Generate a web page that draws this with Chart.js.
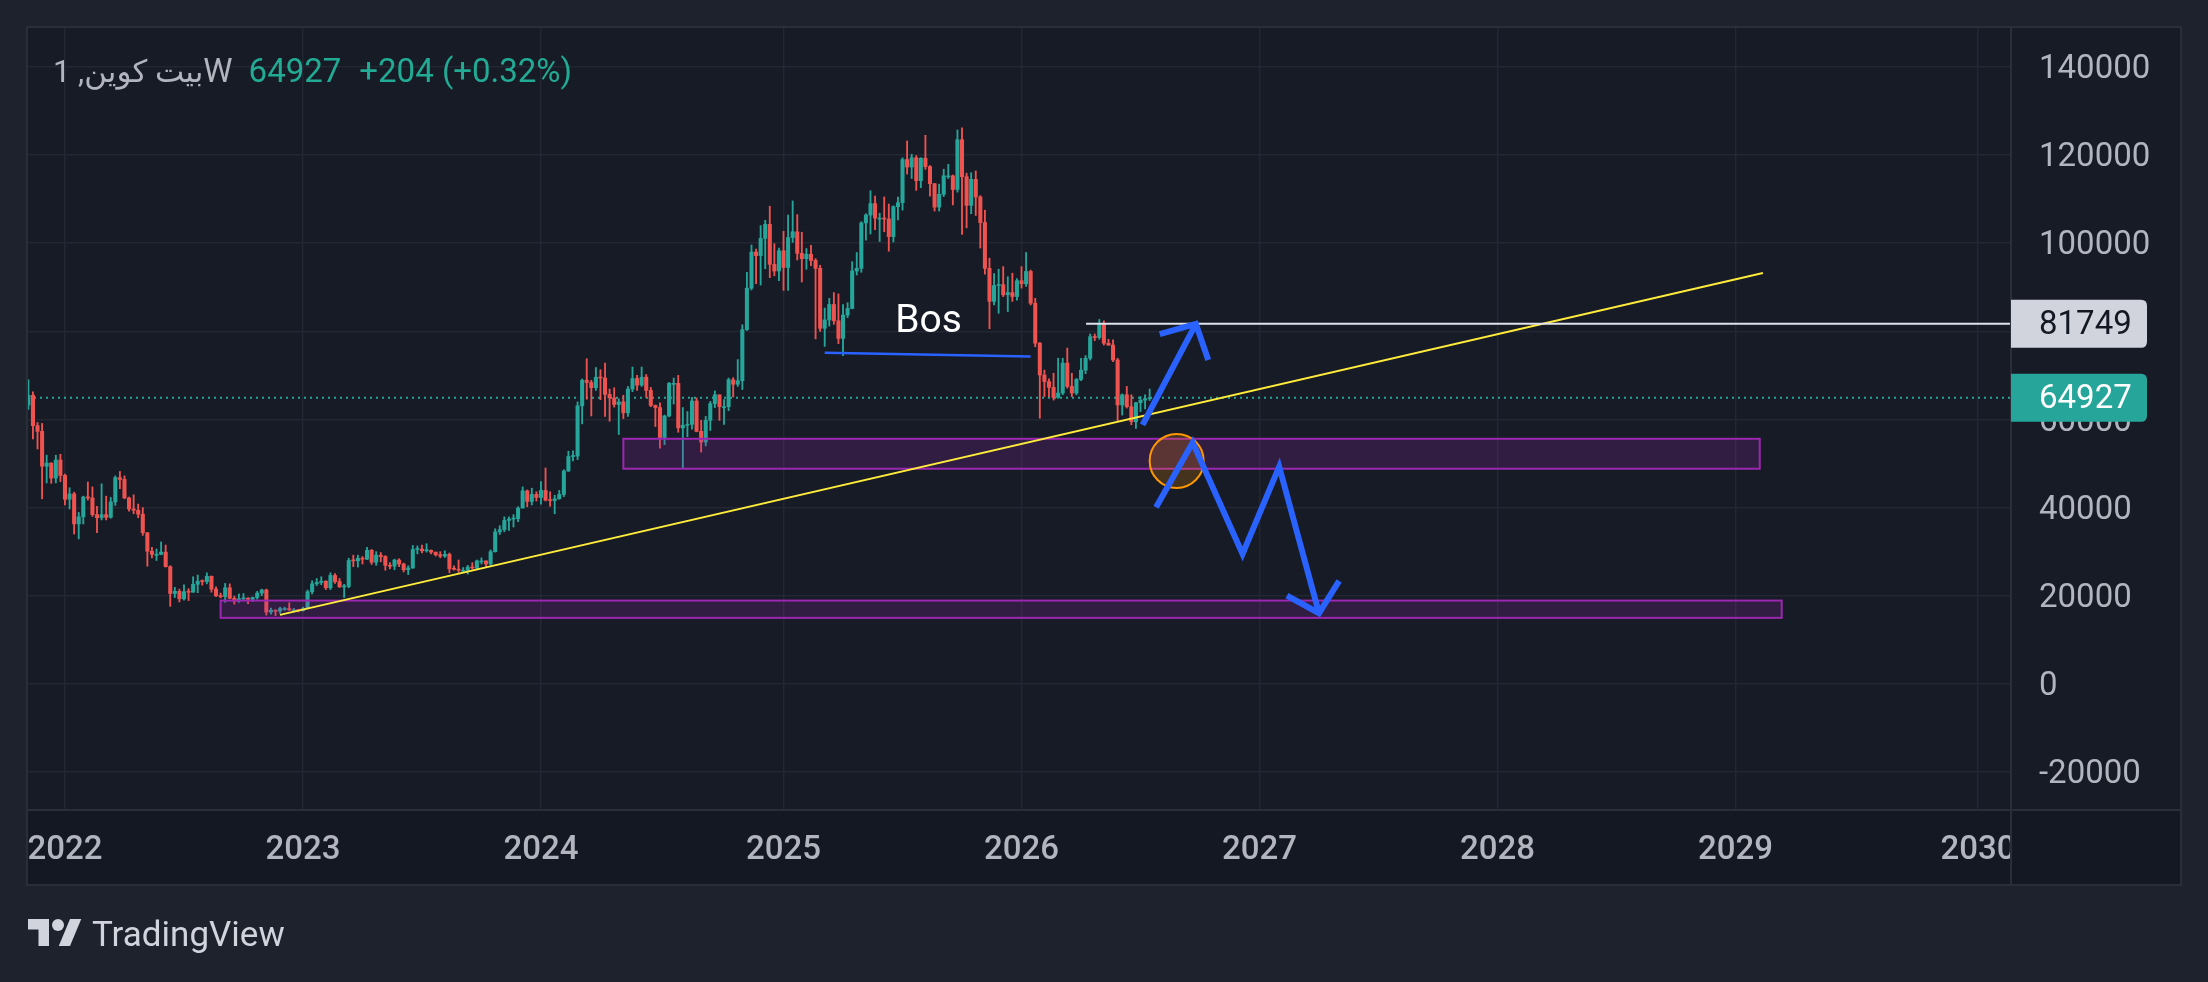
<!DOCTYPE html>
<html>
<head>
<meta charset="utf-8">
<title>بيت كوين, 1W</title>
<script src="https://cdn.jsdelivr.net/npm/chart.js@4.4.1/dist/chart.umd.min.js"></script>
<style>
  html, body { margin: 0; padding: 0; background: #1e222d; overflow: hidden; }
  #chart { display: block; }
</style>
</head>
<body>
<canvas id="chart" width="2208" height="982"></canvas>
<script>
// ---- weekly candles (x = week index, 0 = week of 2022-01-03) ----
const firstIndex = -8;
const firstOpen = 63300;

const closes = [
  65500, 58600, 57300, 49400, 50100, 46700, 50800, 47300,
  // 2022
  41900, 43100, 36300, 37900, 42400, 42200, 38400, 37700,
  38400, 37800, 41300, 46800, 46400, 42200, 39700, 39400,
  38500, 34300, 30100, 29400, 29400, 29900, 26600, 20500,
  21000, 19300, 20900, 20800, 22600, 23300, 23200, 24400,
  21500, 20000, 19800, 21800, 19400, 18800, 19300, 19400,
  19200, 19600, 20600, 21300, 16300, 16700, 16500, 17100,
  17100, 16800, 16800, 16600,
  // 2023
  17100, 20900, 22700, 23000, 23300, 21800, 24600, 23200,
  22000, 22100, 28000, 27900, 28500, 28300, 30300, 27600,
  29200, 28900, 26900, 26700, 28100, 27200, 25900, 26300,
  30500, 30600, 30200, 30300, 29900, 29300, 29000, 29400,
  26100, 26000, 25800, 25800, 26500, 26300, 27900, 27900,
  27200, 30000, 34500, 35000, 37100, 37400, 37500, 39900,
  43800, 41400, 43000, 42300,
  // 2024
  43900, 41700, 41600, 42000, 43000, 48300, 51600, 51700,
  63100, 68900, 68400, 67200, 69600, 69400, 65700, 64900,
  63400, 64000, 61500, 66900, 69300, 67800, 69600, 66600,
  63200, 62700, 55900, 60800, 68200, 68200, 58100, 58700,
  58900, 64200, 57300, 54900, 59800, 63600, 65600, 62900,
  62900, 69000, 68000, 68800, 80400, 89800, 98000, 97200,
  101100, 104300, 95200, 93700, 98300,
  // 2025
  94500, 101300, 102600, 97700, 96500, 97500, 96100, 94300,
  80700, 82600, 86100, 82400, 78400, 83700, 85200, 93700,
  94300, 104600, 106400, 109000, 105700, 105700, 105500, 101500,
  108300, 109200, 119000, 117300, 119400, 114200, 119300, 117400,
  113500, 108200, 111100, 115300, 115300, 112200, 123500, 115100,
  108600, 114500, 110500, 104700, 94300, 86800, 90400,
  90600, 88300, 88800, 87900, 91500,
  // 2026
  90800, 93600, 86400, 77300, 70100, 68600, 67300, 65000,
  66000, 72800, 67500, 66000, 69100, 71200, 73900, 78800,
  78600, 81800, 77300, 76900, 73500, 63300, 65600, 62900,
  59500, 63800, 64400, 64723, 64927
];

const highs = [
  69000, 66300, 59300, 59100, 51900, 50200, 51900, 52100,
  47600, 44500, 43500, 38900, 42600, 45800, 44700, 40300,
  45400, 42600, 42300, 47200, 48200, 47200, 42400, 42900,
  40800, 40000, 34300, 31000, 30600, 32200, 31500, 26800,
  21900, 21500, 22500, 21600, 24300, 24700, 23600, 25200,
  24500, 22000, 20600, 22800, 22700, 19900, 20400, 20500,
  19600, 19700, 21000, 21500, 21500, 17200, 16800, 17400,
  17400, 18400, 17100, 16900,
  17400, 21300, 23400, 23900, 24300, 23400, 25200, 25000,
  23900, 22600, 28500, 29200, 29200, 28900, 31000, 30500,
  30000, 29800, 29100, 27500, 28300, 28400, 27400, 26800,
  31400, 31300, 31500, 31800, 30400, 29900, 30000, 30200,
  29700, 26800, 28100, 26400, 26900, 27500, 28100, 28600,
  27900, 30400, 35200, 35900, 37900, 37900, 38400, 40200,
  44700, 44000, 44400, 43600,
  45900, 49000, 43600, 42800, 43900, 48600, 52800, 52900,
  64000, 69200, 73800, 68900, 71800, 71300, 72800, 66900,
  67200, 64700, 65500, 67500, 71900, 70000, 71900, 70200,
  67300, 63300, 63800, 61000, 68400, 69400, 70000, 62700,
  61800, 65000, 64900, 59800, 60700, 64100, 66500, 65600,
  64500, 69400, 69500, 73600, 81500, 93400, 99600, 98700,
  104000, 105200, 108400, 99900, 98900,
  102700, 106400, 109600, 106500, 102500, 98800, 99500, 96500,
  95000, 85300, 87500, 88800, 88500, 86100, 86500, 95800,
  97900, 104900, 106700, 111900, 110700, 106800, 110500, 108900,
  108500, 110500, 119400, 123200, 120200, 119900, 119400, 124500,
  117600, 113600, 113400, 116800, 117900, 115500, 125700, 126200,
  115900, 116000, 116400, 110800, 107500, 96600, 93100,
  94100, 94700, 92400, 93200, 92000,
  94700, 97900, 93900, 87500, 77500, 71200, 69200, 70500,
  73900, 73900, 76200, 70500, 69300, 73900, 74500, 79400,
  79400, 82700, 82400, 78200, 78100, 73900, 65800, 67500,
  65600, 63900, 65200, 65600, 66900
];

const lows = [
  62300, 55600, 53300, 42000, 45600, 45500, 45600, 45900,
  40600, 39700, 34000, 32900, 36300, 41700, 38000, 34300,
  37200, 37200, 37600, 40500, 44300, 42000, 39200, 38600,
  37700, 33700, 26700, 28600, 28000, 29300, 26500, 17600,
  19600, 18600, 19000, 18900, 20800, 20700, 22400, 22700,
  20800, 19800, 19500, 18500, 19300, 18100, 18500, 19100,
  18200, 18700, 19200, 20000, 15600, 15800, 15500, 16000,
  16700, 16600, 16300, 16300,
  16500, 17100, 20400, 22300, 22500, 21400, 21400, 22800,
  21900, 19600, 21800, 26600, 26500, 27200, 28200, 27100,
  26900, 27700, 25800, 26100, 25900, 26600, 25400, 24800,
  26200, 29500, 29700, 29900, 29500, 29000, 28600, 28700,
  25200, 25800, 25300, 25400, 24900, 26000, 26000, 27200,
  26500, 26900, 29900, 33900, 34500, 34800, 35600, 36800,
  39900, 40200, 40600, 41500,
  40800, 41500, 40300, 38600, 41900, 42500, 48200, 50600,
  50900, 59000, 64600, 60800, 66600, 64500, 60700, 59600,
  62800, 56600, 60200, 60700, 66300, 66600, 67500, 65000,
  62900, 58400, 53500, 54300, 60600, 63500, 57100, 49000,
  56100, 57800, 57200, 52600, 54000, 57500, 62700, 59800,
  58900, 62000, 65100, 67500, 66800, 80200, 89400, 90800,
  90500, 94200, 92200, 92600, 91500,
  89300, 89300, 100200, 96200, 91200, 94100, 94900, 78300,
  80000, 76600, 81200, 81600, 77200, 74500, 83100, 85100,
  92800, 93400, 100700, 102100, 103100, 100400, 102600, 98200,
  100300, 105300, 107500, 115700, 114700, 112000, 112600, 116800,
  110700, 107300, 107300, 110600, 114700, 108700, 111600, 102000,
  103500, 106700, 106300, 98900, 93000, 80600, 86000,
  84100, 87900, 84500, 86800, 87100,
  89800, 90200, 86000, 76500, 60300, 65200, 65200, 64400,
  64800, 65600, 67100, 65200, 65600, 68800, 70400, 73500,
  77900, 78200, 76900, 76800, 73100, 59500, 61000, 62600,
  58800, 58000, 61800, 62400, 64300
];

// ---- axes ----
const yearTickIndex = [0, 52, 104, 157, 209, 261, 313, 365, 418];
const yearLabels = ["2022", "2023", "2024", "2025", "2026", "2027", "2028", "2029", "2030"];
const priceTicks = [-20000, 0, 20000, 40000, 60000, 80000, 100000, 120000, 140000];
const xRange = [-8.08, 425.2];
const yRange = [-28630, 148850];

// ---- legend values ----
const symbolName = "بيت كوين";
const intervalCount = "1";
const intervalUnit = "W";
const lastPrice = 64927;
const priceChange = "+204";
const priceChangePct = "(+0.32%)";
const markedLevel = 81749;

// ---- drawings (x = week index, y = price) ----
const trendLine = [{ x: 46.97, y: 15660 }, { x: 371.0, y: 93260 }];
const bosLine = [{ x: 166.0, y: 75170 }, { x: 211.0, y: 74270 }];
const bosLabel = { x: 188.7, y: 82020, text: "Bos" };
const levelLine = [{ x: 223.1, y: markedLevel }, { x: 425.2, y: markedLevel }];
const upperZone = { x1: 122.0, x2: 370.3, y1: 55620, y2: 48820 };
const lowerZone = { x1: 34.0, x2: 375.1, y1: 18900, y2: 14980 };
const circleBox = { x1: 237.0, x2: 248.8, y1: 56730, y2: 44470 };
const upArrow = [{ x: 235.45, y: 58770 }, { x: 247.1, y: 81690 }];
const upArrowHead = [{ x: 239.2, y: 79350 }, { x: 247.1, y: 81690 }, { x: 249.8, y: 73520 }];
const zigzag = [
  { x: 238.4, y: 40090 }, { x: 246.4, y: 54750 }, { x: 257.3, y: 29500 },
  { x: 265.3, y: 49310 }, { x: 274.0, y: 16040 }
];
const zigzagHead = [{ x: 267.0, y: 20040 }, { x: 274.0, y: 16040 }, { x: 278.4, y: 23370 }];

// ---- colours ----
const upColor = "#26a69a";
const downColor = "#ef5350";
const gridColor = "#232733";
const frameColor = "#2a2e39";
const textColor = "#b2b5be";
const FONT = 'Roboto, "DejaVu Sans", sans-serif';

// candles -> floating bars
const opens = closes.map((c, i) => (i === 0 ? firstOpen : closes[i - 1]));
const bodyData = closes.map((c, i) => ({ x: firstIndex + i, y: [opens[i], c] }));
const wickData = closes.map((c, i) => ({ x: firstIndex + i, y: [lows[i], highs[i]] }));
const candleColors = closes.map((c, i) => (c >= opens[i] ? upColor : downColor));

function lineSet(points, color, width, order) {
  return {
    type: "line",
    data: points,
    borderColor: color,
    borderWidth: width,
    pointRadius: 0,
    fill: false,
    tension: 0,
    borderCapStyle: "butt",
    borderJoinStyle: "miter",
    order: order
  };
}

// background + frame
const paneBackground = {
  id: "paneBackground",
  beforeDraw(chart) {
    const { ctx, chartArea, scales } = chart;
    ctx.save();
    ctx.fillStyle = "#1e222d";
    ctx.fillRect(0, 0, chart.width, chart.height);
    ctx.fillStyle = "#171b26";
    ctx.fillRect(chartArea.left, chartArea.top, scales.y.right - chartArea.left, chartArea.bottom - chartArea.top);
    ctx.fillStyle = "#141823";
    ctx.fillRect(chartArea.left, scales.x.top, scales.y.right - chartArea.left, scales.x.bottom - scales.x.top);
    ctx.restore();
  },
  beforeDatasetsDraw(chart) {
    // last price dotted line
    const { ctx, chartArea, scales } = chart;
    const y = scales.y.getPixelForValue(lastPrice);
    ctx.save();
    ctx.strokeStyle = upColor;
    ctx.lineWidth = 2;
    ctx.setLineDash([2, 4]);
    ctx.beginPath();
    ctx.moveTo(chartArea.left, y);
    ctx.lineTo(chartArea.right, y);
    ctx.stroke();
    ctx.restore();
  },
  afterDatasetDraw(chart, args) {
    // zones and circle sit above the candles, below the line drawings
    if (args.index !== 1) return;
    const { ctx, chartArea, scales } = chart;
    ctx.save();
    ctx.beginPath();
    ctx.rect(chartArea.left, chartArea.top, chartArea.right - chartArea.left, chartArea.bottom - chartArea.top);
    ctx.clip();
    [upperZone, lowerZone].forEach(z => {
      const x1 = scales.x.getPixelForValue(z.x1);
      const x2 = scales.x.getPixelForValue(z.x2);
      const y1 = scales.y.getPixelForValue(z.y1);
      const y2 = scales.y.getPixelForValue(z.y2);
      ctx.fillStyle = "rgba(156, 39, 176, 0.2)";
      ctx.fillRect(x1, y1, x2 - x1, y2 - y1);
      ctx.strokeStyle = "#9c27b0";
      ctx.lineWidth = 2;
      ctx.strokeRect(x1, y1, x2 - x1, y2 - y1);
    });
    const cx1 = scales.x.getPixelForValue(circleBox.x1);
    const cx2 = scales.x.getPixelForValue(circleBox.x2);
    const cy1 = scales.y.getPixelForValue(circleBox.y1);
    const cy2 = scales.y.getPixelForValue(circleBox.y2);
    ctx.beginPath();
    ctx.ellipse((cx1 + cx2) / 2, (cy1 + cy2) / 2, Math.abs(cx2 - cx1) / 2, Math.abs(cy2 - cy1) / 2, 0, 0, Math.PI * 2);
    ctx.fillStyle = "rgba(255, 152, 0, 0.2)";
    ctx.fill();
    ctx.strokeStyle = "#ff9800";
    ctx.lineWidth = 2;
    ctx.stroke();
    ctx.restore();
  },
  afterDatasetsDraw(chart) {
    const { ctx, scales } = chart;
    ctx.save();
    ctx.font = "39px " + FONT;
    ctx.fillStyle = "#ffffff";
    ctx.textAlign = "center";
    ctx.textBaseline = "middle";
    ctx.fillText(bosLabel.text, scales.x.getPixelForValue(bosLabel.x), scales.y.getPixelForValue(bosLabel.y));
    ctx.restore();
  },
  afterDraw(chart) {
    const { ctx, chartArea, scales } = chart;
    const right = scales.y.right;
    const bottom = scales.x.bottom;
    ctx.save();
    // corner under price axis (also clips the last year label)
    ctx.fillStyle = "#141823";
    ctx.fillRect(chartArea.right + 1, scales.x.top + 1, right - chartArea.right - 1, bottom - scales.x.top - 1);
    // frame
    ctx.strokeStyle = frameColor;
    ctx.lineWidth = 2;
    ctx.strokeRect(chartArea.left - 1, chartArea.top - 1, right - chartArea.left + 2, bottom - chartArea.top + 2);
    ctx.beginPath();
    ctx.moveTo(chartArea.right, chartArea.top);
    ctx.lineTo(chartArea.right, bottom);
    ctx.moveTo(chartArea.left, chartArea.bottom);
    ctx.lineTo(right, chartArea.bottom);
    ctx.stroke();

    // price labels
    const tags = [
      { value: markedLevel, bg: "#d1d4dc", fg: "#131722" },
      { value: lastPrice, bg: upColor, fg: "#ffffff" }
    ];
    ctx.font = "33px " + FONT;
    ctx.textBaseline = "middle";
    ctx.textAlign = "left";
    tags.forEach(t => {
      const y = scales.y.getPixelForValue(t.value);
      const x0 = chartArea.right;
      const w = 136, h = 48, r = 6;
      ctx.fillStyle = t.bg;
      ctx.beginPath();
      ctx.moveTo(x0, y - h / 2);
      ctx.lineTo(x0 + w - r, y - h / 2);
      ctx.quadraticCurveTo(x0 + w, y - h / 2, x0 + w, y - h / 2 + r);
      ctx.lineTo(x0 + w, y + h / 2 - r);
      ctx.quadraticCurveTo(x0 + w, y + h / 2, x0 + w - r, y + h / 2);
      ctx.lineTo(x0, y + h / 2);
      ctx.closePath();
      ctx.fill();
      ctx.fillStyle = t.fg;
      ctx.fillText(String(t.value), x0 + 28, y + 2);
    });

    // legend line
    ctx.textBaseline = "alphabetic";
    ctx.textAlign = "left";
    let x = 53;
    const base = 82;
    ctx.fillStyle = textColor;
    ctx.font = "31px " + FONT;
    ctx.direction = "rtl";
    const title = symbolName + ", " + intervalCount;
    ctx.fillText(title, x, base);
    x += ctx.measureText(title).width;
    ctx.direction = "ltr";
    ctx.font = "33px " + FONT;
    ctx.fillText(intervalUnit, x, base);
    x += ctx.measureText(intervalUnit).width + 16;
    ctx.fillStyle = "#22ab94";
    ctx.fillText(String(lastPrice), x, base);
    x += ctx.measureText(String(lastPrice)).width + 18;
    ctx.fillText(priceChange, x, base);
    x += ctx.measureText(priceChange + " ").width;
    ctx.fillText(priceChangePct, x, base);

    // TradingView mark
    ctx.fillStyle = "#d1d4dc";
    ctx.save();
    ctx.translate(28, 913);
    ctx.scale(1.5, 1.5);
    ctx.beginPath();
    ctx.moveTo(14, 22); ctx.lineTo(7, 22); ctx.lineTo(7, 11); ctx.lineTo(0, 11);
    ctx.lineTo(0, 4); ctx.lineTo(14, 4); ctx.closePath();
    ctx.moveTo(28, 22); ctx.lineTo(20.5, 22); ctx.lineTo(28, 4); ctx.lineTo(35.5, 4); ctx.closePath();
    ctx.fill();
    ctx.beginPath();
    ctx.arc(20, 8, 4, 0, Math.PI * 2);
    ctx.fill();
    ctx.restore();
    ctx.font = "35px " + FONT;
    ctx.fillText("TradingView", 92, 946);
    ctx.restore();
  }
};

function build() {
  const ctx = document.getElementById("chart").getContext("2d");
  new Chart(ctx, {
    type: "bar",
    data: {
      datasets: [
        {
          data: wickData,
          backgroundColor: candleColors,
          barThickness: 1.2,
          grouped: false,
          borderWidth: 0,
          order: 21
        },
        {
          data: bodyData,
          backgroundColor: candleColors,
          barThickness: 3.4,
          minBarLength: 1,
          grouped: false,
          borderWidth: 0,
          order: 20
        },
        lineSet(trendLine, "#ffeb3b", 2, 8),
        lineSet(bosLine, "#2962ff", 2.5, 7),
        lineSet(levelLine, "#e0e3eb", 2, 6),
        lineSet(upArrow, "#2962ff", 6, 4),
        lineSet(upArrowHead, "#2962ff", 6, 3),
        lineSet(zigzag, "#2962ff", 6, 2),
        lineSet(zigzagHead, "#2962ff", 6, 1)
      ]
    },
    options: {
      responsive: false,
      animation: false,
      devicePixelRatio: 1,
      layout: { padding: { left: 28, top: 28, right: 28, bottom: 98 } },
      plugins: { legend: { display: false }, tooltip: { enabled: false } },
      scales: {
        x: {
          type: "linear",
          min: xRange[0],
          max: xRange[1],
          offset: false,
          grid: { color: gridColor, lineWidth: 1.5, drawTicks: false, offset: false },
          border: { display: true, color: frameColor, width: 2 },
          ticks: {
            padding: 21,
            color: textColor,
            font: { family: FONT, size: 33, weight: "500" },
            maxRotation: 0,
            autoSkip: false,
            callback: (v, i) => yearLabels[i]
          },
          afterBuildTicks: s => { s.ticks = yearTickIndex.map(v => ({ value: v })); },
          afterFit: s => { s.height = 74; s.paddingLeft = 0; s.paddingRight = 0; }
        },
        y: {
          type: "linear",
          position: "right",
          min: yRange[0],
          max: yRange[1],
          grid: { color: gridColor, lineWidth: 1.5, drawTicks: false },
          border: { display: true, color: frameColor, width: 2 },
          ticks: {
            padding: 28,
            labelOffset: 3,
            color: textColor,
            font: { family: FONT, size: 33 },
            autoSkip: false,
            callback: v => String(v)
          },
          afterBuildTicks: s => { s.ticks = priceTicks.map(v => ({ value: v })); },
          afterFit: s => { s.width = 169; s.paddingTop = 0; s.paddingBottom = 0; }
        }
      }
    },
    plugins: [paneBackground]
  });
}

Promise.all([
  document.fonts.load("33px Roboto"),
  document.fonts.load("500 33px Roboto")
]).catch(() => null).then(build);
</script>
</body>
</html>
